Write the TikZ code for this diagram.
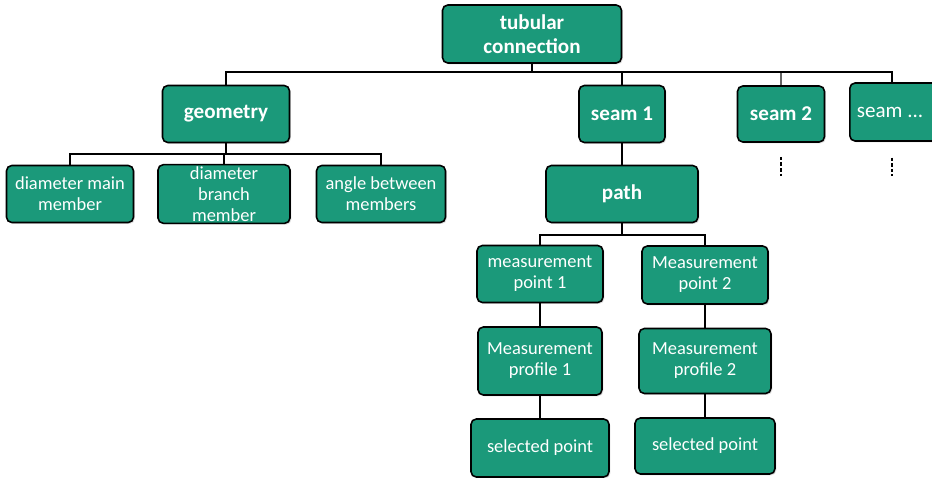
\documentclass[tikz,border=0pt]{standalone}
\usepackage{fontspec}
\setmainfont{Carlito}
\usetikzlibrary{shadows}
\definecolor{boxgreen}{RGB}{27,153,122}

\begin{document}
\begin{tikzpicture}
[
x=0.02cm,y=-0.02cm,
box/.style 2 args={draw=black,line width=0.9pt,rounded corners=3pt,fill=boxgreen,
            text=white,align=center,inner sep=1pt,
            minimum width=#1,minimum height=#2,
            drop shadow={shadow xshift=0.8pt,shadow yshift=-0.8pt,opacity=0.25}},
head/.style={font=\bfseries\fontsize{12}{13.5}\selectfont},
leaf/.style={font=\fontsize{10.5}{12}\selectfont},
link/.style={draw,line width=0.7pt},
]
\useasboundingbox (0,0) rectangle (932,477);

%Place the nodes
\node[box={3.58cm}{1.16cm},head] (tub) at (532,34) {tubular\\connection};
\node[box={2.54cm}{1.14cm},head] (geo) at (226,114) {geometry};
\node[box={1.72cm}{1.14cm},head] (sa) at (622,114) {seam 1};
\node[box={1.74cm}{1.12cm},head] (sb) at (781,114) {seam 2};
\node[box={1.74cm}{1.16cm},leaf,font=\fontsize{12}{13}\selectfont,anchor=west] (sc) at (849,112) {\hspace*{2pt}seam ...\hspace*{0.2cm}};
\node[box={2.54cm}{1.14cm},leaf] (dmain) at (70,194) {diameter main\\member};
\node[box={2.64cm}{1.14cm},leaf] (dbranch) at (224,194) {diameter\\branch\\member};
\node[box={2.58cm}{1.14cm},leaf] (angle) at (381,194) {angle between\\members};
\node[box={3.04cm}{1.14cm},head] (path) at (622,194) {path};
\node[box={2.52cm}{1.14cm},leaf] (mpa) at (540,274) {measurement\\point 1};
\node[box={2.52cm}{1.16cm},leaf] (mpb) at (705,275) {Measurement\\point 2};
\node[box={2.48cm}{1.36cm},leaf] (pra) at (540,361) {Measurement\\profile 1};
\node[box={2.64cm}{1.30cm},leaf] (prb) at (705,361) {Measurement\\profile 2};
\node[box={2.76cm}{1.16cm},leaf] (sela) at (540,448) {selected point};
\node[box={2.80cm}{1.12cm},leaf] (selb) at (705,446) {selected point};

%Bus points
\coordinate (b0) at (532,72);
\coordinate (b1) at (226,154);
\coordinate (b2) at (622,235);
\coordinate (db) at (781,176);
\coordinate (dc) at (892,176);

%Draw the connections
\draw[link] (tub) -- (b0) -| (geo);
\draw[link] (b0) -| (sa);
\draw[link,draw=black!60] (b0) -| (sb);
\draw[link] (b0) -| (sc.north -| dc);
\draw[link] (geo) -- (b1) -| (dmain);
\draw[link] (b1) -| (dbranch);
\draw[link] (b1) -| (angle);
\draw[link] (sa) -- (path);
\draw[link] (path) -- (b2) -| (mpa);
\draw[link] (b2) -| (mpb);
\draw[link] (mpa) -- (pra);
\draw[link] (pra) -- (sela);
\draw[link] (mpb) -- (prb);
\draw[link] (prb) -- (selb);
\draw[line width=1.1pt,dash pattern=on 2pt off 1.2pt] ([yshift=-8pt]sb.south) -- (db);
\draw[line width=1.1pt,dash pattern=on 2pt off 1.2pt] ([yshift=-9pt]sc.south -| dc) -- (dc);
\end{tikzpicture}
\end{document}
